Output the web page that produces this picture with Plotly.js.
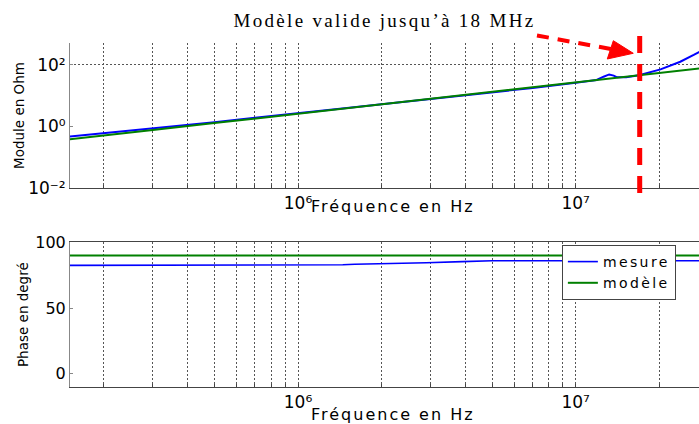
<!DOCTYPE html>
<html>
<head>
<meta charset="utf-8">
<script src="https://cdn.plot.ly/plotly-3.0.1.min.js"></script>
<style>
  html, body { margin: 0; padding: 0; background: #fff; }
  #chart { width: 699px; height: 424px; }
  .gtitle { letter-spacing: 2.3px; }
  .annotation-text { letter-spacing: 2px; }
  .legendtext { letter-spacing: 2.4px; }
</style>
</head>
<body>
<div id="chart"></div>
<script>
// ---- data ----
const freqModuleMesure = [1.5e5, 2e5, 3e5, 4e5, 5e5, 7e5, 1e6, 1.5e6, 2e6, 3e6, 5e6, 7e6, 1e7,
  1.19e7, 1.26e7, 1.32e7, 1.37e7, 1.41e7, 1.52e7, 1.69e7, 2.02e7, 2.38e7, 2.66e7, 2.8e7];
const moduleMesure = [0.46, 0.59, 0.84, 1.10, 1.35, 1.9, 2.6, 3.9, 5.2, 7.7, 12.2, 17.5, 26,
  31.7, 40.5, 48, 44, 38.7, 39, 45, 70, 124, 205, 262];

const freqModuleModele = [1.5e5, 2e5, 3e5, 5e5, 1e6, 2e6, 3e6, 5e6, 1e7, 2e7, 2.8e7];
const moduleModele = [0.38, 0.50, 0.76, 1.27, 2.55, 5.1, 7.7, 12.8, 26, 53, 75];

const freqPhaseMesure = [1.5e5, 1.3e6, 1.45e6, 1.6e6, 1.9e6, 2.4e6, 2.9e6, 3.9e6, 5e6, 8e6,
  1.1e7, 1.28e7, 1.365e7, 1.45e7, 2e7, 2.8e7];
const phaseMesure = [82.5, 82.5, 82.9, 83.3, 83.8, 84.2, 84.5, 85.3, 86.0, 86.0,
  86.0, 86.0, 67, 86, 86, 86];

const freqPhaseModele = [1.5e5, 1e6, 1e7, 2.8e7];
const phaseModele = [90, 90, 90, 90];

const freqValide = 1.7e7; // limite de validité du modèle

const xMajorTicks = [1e6, 1e7];
const xMajorText = ['10⁶', '10⁷'];
const xMinorTicks = [2e5, 3e5, 4e5, 5e5, 6e5, 7e5, 8e5, 9e5, 2e6, 3e6, 4e6, 5e6, 6e6, 7e6, 8e6, 9e6, 2e7];
const yModuleTicks = [0.01, 1, 100];
const yModuleText = ['10⁻²', '10⁰', '10²'];
const yModuleGrid = [100];
const yPhaseTicks = [0, 50, 100];
const yPhaseText = ['0', '50', '100'];

const names = ['mesure', 'modèle'];
const colors = ['#0000ff', '#008000'];

// ---- traces ----
const traces = [
  { x: freqModuleMesure, y: moduleMesure, xaxis: 'x', yaxis: 'y', mode: 'lines', name: names[0],
    line: { color: colors[0], width: 2 }, showlegend: false },
  { x: freqModuleModele, y: moduleModele, xaxis: 'x', yaxis: 'y', mode: 'lines', name: names[1],
    line: { color: colors[1], width: 2 }, showlegend: false },
  { x: freqPhaseMesure, y: phaseMesure, xaxis: 'x2', yaxis: 'y2', mode: 'lines', name: names[0],
    line: { color: colors[0], width: 1.6 } },
  { x: freqPhaseModele, y: phaseModele, xaxis: 'x2', yaxis: 'y2', mode: 'lines', name: names[1],
    line: { color: colors[1], width: 2 } }
];

const gridDash = '2px,2px';
const gridColor = '#555';
const xRange = [5.179, 7.444];
const tickFont = { family: 'DejaVu Sans', size: 17, color: '#000' };

function xAxis(anchor, mirror) {
  return {
    type: 'log', range: xRange, anchor: anchor,
    tickmode: 'array', tickvals: xMajorTicks, ticktext: xMajorText,
    showgrid: true, gridcolor: gridColor, griddash: gridDash, gridwidth: 1,
    ticks: 'inside', ticklen: 3, tickcolor: '#444',
    minor: { tickmode: 'array', tickvals: xMinorTicks, showgrid: true, gridcolor: gridColor,
      griddash: gridDash, gridwidth: 1, ticks: 'inside', ticklen: 3, tickcolor: '#444' },
    showline: true, linecolor: '#444', linewidth: 1, mirror: mirror,
    zeroline: false, automargin: false,
    tickfont: tickFont
  };
}

const layout = {
  width: 699, height: 424,
  margin: { l: 70, r: 0, t: 43, b: 37 },
  paper_bgcolor: '#fff', plot_bgcolor: '#fff',
  font: { family: 'DejaVu Sans', size: 16, color: '#000' },
  title: {
    text: 'Modèle valide jusqu’à 18 MHz',
    font: { family: 'Liberation Serif', size: 19, color: '#000' },
    x: 0.5, xref: 'paper', xanchor: 'center',
    y: 1 - 20 / 424, yref: 'container', yanchor: 'middle'
  },
  xaxis: xAxis('y', false),
  xaxis2: xAxis('y2', true),
  yaxis: {
    type: 'log', range: [-2, 2.7], domain: [0.5785, 1], anchor: 'x',
    tickmode: 'array', tickvals: yModuleTicks, ticktext: yModuleText,
    showgrid: false, ticks: 'inside', ticklen: 3, tickcolor: '#888',
    showline: true, linecolor: '#888', zeroline: false, automargin: false,
    minor: { tickmode: 'array', tickvals: yModuleGrid, showgrid: true, gridcolor: gridColor, griddash: gridDash, ticks: '' },
    tickfont: tickFont,
    title: { text: 'Module en Ohm', font: { family: 'DejaVu Sans', size: 13.5, color: '#000' }, standoff: 0 }
  },
  yaxis2: {
    range: [-10, 100], domain: [0, 0.4206], anchor: 'x2',
    tickmode: 'array', tickvals: yPhaseTicks, ticktext: yPhaseText,
    showgrid: false, ticks: 'inside', ticklen: 3, tickcolor: '#888',
    showline: true, linecolor: '#888', zeroline: false, automargin: false,
    tickfont: { family: 'DejaVu Sans', size: 16, color: '#000' },
    title: { text: 'Phase en degré', font: { family: 'DejaVu Sans', size: 13.5, color: '#000' }, standoff: 3 }
  },
  legend: {
    x: 0.782, xanchor: 'left', y: 0.4128, yanchor: 'top',
    bgcolor: '#fff', bordercolor: '#444', borderwidth: 1,
    font: { family: 'DejaVu Sans', size: 14, color: '#000' },
    tracegroupgap: 0
  },
  annotations: [
    { text: 'Fréquence en Hz', xref: 'paper', yref: 'paper', x: 0.5135, y: 0.5233,
      xanchor: 'center', yanchor: 'middle', showarrow: false,
      font: { family: 'DejaVu Sans', size: 16, color: '#000' } },
    { text: 'Fréquence en Hz', xref: 'paper', yref: 'paper', x: 0.5135, y: -0.0799,
      xanchor: 'center', yanchor: 'middle', showarrow: false,
      font: { family: 'DejaVu Sans', size: 16, color: '#000' } }
  ],
  shapes: [
    // vertical red dashed limit line
    { type: 'line', xref: 'x', yref: 'paper', x0: freqValide, x1: freqValide, y0: 1.0203, y1: 0.5581,
      line: { color: '#ff0000', width: 5, dash: '17px,11px' }, layer: 'above' },
    // dashed arrow shaft
    { type: 'line', xref: 'paper', yref: 'paper', x0: 0.7424, y0: 1.0218, x1: 0.8601, y1: 0.9826,
      line: { color: '#ff0000', width: 4, dash: '12px,9px' }, layer: 'above' },
    // arrow head
    { type: 'path', xref: 'paper', yref: 'paper', path: 'M0.8638,1.0067 L0.8542,0.9535 L0.8955,0.9701 Z',
      fillcolor: '#ff0000', line: { color: '#ff0000', width: 1 }, layer: 'above' }
  ]
};

Plotly.newPlot('chart', traces, layout, { displayModeBar: false, staticPlot: true });
</script>
</body>
</html>
